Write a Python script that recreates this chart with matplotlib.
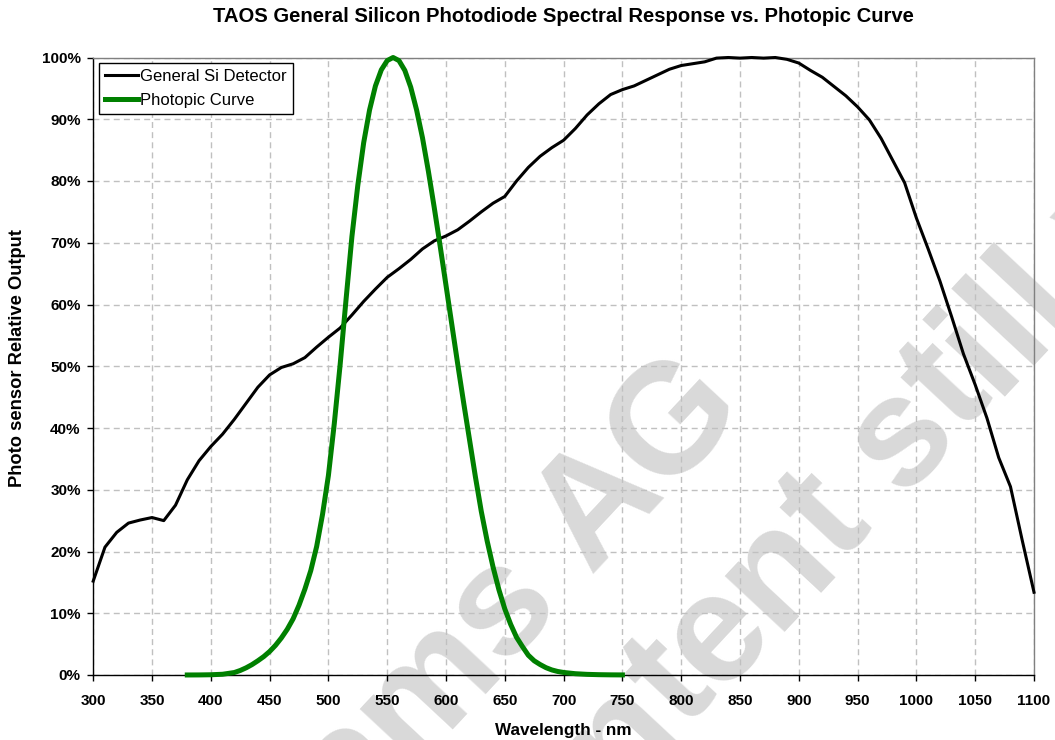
import math
import matplotlib
matplotlib.use('Agg')
import matplotlib.pyplot as plt
from matplotlib.ticker import FuncFormatter

plt.rcParams['font.family'] = ['Liberation Sans', 'DejaVu Sans']

# ---------------- data ----------------
title = "TAOS General Silicon Photodiode Spectral Response vs. Photopic Curve"
x_label = "Wavelength - nm"
y_label = "Photo sensor Relative Output"
series_names = ["General Si Detector", "Photopic Curve"]

si_wavelength = list(range(300, 1101, 10))
si_response = [
    15.2, 20.7, 23.1, 24.6, 25.1, 25.5, 25.0, 27.5, 31.6, 34.7,   # 300-390
    37.0, 39.0, 41.4, 44.0, 46.6, 48.6, 49.8, 50.4, 51.4, 53.1,   # 400-490
    54.7, 56.2, 58.3, 60.5, 62.5, 64.4, 65.8, 67.3, 69.0, 70.3,   # 500-590
    71.1, 72.1, 73.5, 75.0, 76.4, 77.5, 80.0, 82.2, 84.0, 85.4,   # 600-690
    86.6, 88.5, 90.7, 92.5, 94.0, 94.8, 95.4, 96.3, 97.2, 98.1,   # 700-790
    98.7, 99.0, 99.3, 99.9, 100.0, 99.9, 100.0, 99.9, 100.0, 99.7,  # 800-890
    99.1, 97.9, 96.8, 95.3, 93.8, 92.0, 89.9, 86.9, 83.3, 79.7,   # 900-990
    74.0, 69.0, 63.8, 58.0, 52.0, 47.0, 41.6, 35.2, 30.5, 21.8,   # 1000-1090
    13.4,                                                         # 1100
]

photopic_wavelength = [380, 390, 400, 410, 420, 425, 430, 435, 440, 445,
                       450, 455, 460, 465, 470, 475, 480, 485, 490, 495,
                       500, 505, 510, 515, 520, 525, 530, 535, 540, 545,
                       550, 555, 560, 565, 570, 575, 580, 585, 590, 595,
                       600, 605, 610, 615, 620, 625, 630, 635, 640, 645,
                       650, 655, 660, 665, 670, 675, 680, 685, 690, 695,
                       700, 710, 720, 730, 740, 750]
photopic_response = [0.004, 0.012, 0.04, 0.12, 0.40, 0.73, 1.16, 1.68, 2.3, 2.98,
                     3.8, 4.8, 6.0, 7.4, 9.1, 11.3, 13.9, 16.9, 20.8, 26.0,
                     32.3, 40.7, 50.3, 60.8, 71.0, 79.3, 86.2, 91.5, 95.4, 98.0,
                     99.5, 100.0, 99.5, 97.9, 95.2, 91.5, 87.0, 81.6, 75.7, 69.5,
                     63.1, 56.7, 50.3, 44.1, 38.1, 32.1, 26.5, 21.7, 17.5, 13.8,
                     10.7, 8.2, 6.1, 4.6, 3.2, 2.3, 1.7, 1.19, 0.82, 0.57,
                     0.41, 0.21, 0.105, 0.052, 0.025, 0.012]

x_ticks = list(range(300, 1101, 50))
y_ticks = list(range(0, 101, 10))

watermark_lines = ["ams AG", "content still valid"]

# ---------------- figure ----------------
W, H = 1055, 740
fig = plt.figure(figsize=(W / 100, H / 100), dpi=100)
fig.patch.set_facecolor('white')

ax_left, ax_right, ax_top, ax_bottom = 93.2, 1034.0, 57.5, 675.0
ax = fig.add_axes([ax_left / W, 1 - ax_bottom / H,
                   (ax_right - ax_left) / W, (ax_bottom - ax_top) / H])
ax.set_facecolor('none')

# watermark (light grey, rotated, behind everything)
ADV = {'a': .556, 'm': .889, 's': .556, ' ': .278, 'A': .722, 'G': .778,
       'c': .556, 'o': .611, 'n': .611, 't': .333, 'e': .556, 'i': .278,
       'l': .278, 'v': .556, 'd': .611}


def watermark(text, start_px, angle_deg, em_px, fontsize):
    ca, sa = math.cos(math.radians(angle_deg)), math.sin(math.radians(angle_deg))
    x, y = start_px
    for ch in text:
        w = ADV.get(ch, 0.556) * em_px
        cx = x + ca * w / 2
        cy = y - sa * w / 2
        if ch != ' ':
            fig.text(cx / W, 1 - cy / H, ch, rotation=angle_deg,
                     rotation_mode='anchor', ha='center', va='baseline',
                     fontsize=fontsize, fontweight='bold', color='#d9d9d9',
                     zorder=-5)
        x += ca * w
        y -= sa * w


watermark(watermark_lines[0], (353, 826), 47, 152, 112)
watermark(watermark_lines[1], (499, 928), 47, 152, 112)

# grid
ax.set_axisbelow(True)
ax.grid(True, color='#c0c0c0', linewidth=1.0, linestyle=(0, (4.3, 3.0)))

# curves
ax.plot(si_wavelength, si_response, color='black', linewidth=2.2,
        label=series_names[0], clip_on=False, zorder=3, solid_joinstyle='round')
ax.plot(photopic_wavelength, photopic_response, color='#008000', linewidth=3.6,
        label=series_names[1], clip_on=False, zorder=4, solid_joinstyle='round')

ax.set_xlim(300, 1100)
ax.set_ylim(0, 100)
ax.set_xticks(x_ticks)
ax.set_yticks(y_ticks)
ax.yaxis.set_major_formatter(FuncFormatter(lambda v, p: f"{int(round(v))}%"))

for lbl in ax.get_xticklabels() + ax.get_yticklabels():
    lbl.set_fontweight('bold')
ax.tick_params(axis='both', which='major', direction='out', length=4,
               width=1, color='black', labelsize=11, labelcolor='black')
ax.tick_params(axis='x', pad=9.5)
ax.tick_params(axis='y', pad=5)

ax.spines['left'].set_color('black')
ax.spines['bottom'].set_color('black')
ax.spines['top'].set_color('#808080')
ax.spines['right'].set_color('#808080')
for s in ax.spines.values():
    s.set_linewidth(1.0)

# legend
leg = ax.legend(loc='upper left', bbox_to_anchor=(0.0062, 0.991),
                borderaxespad=0, fancybox=False, framealpha=1,
                edgecolor='black', fontsize=12, handlelength=2.0,
                handletextpad=0.12, borderpad=0.35, labelspacing=0.55)
leg.get_frame().set_linewidth(1.0)

# texts
fig.text(563 / W, 1 - 17 / H, title, ha='center', va='center',
         fontsize=14.6, fontweight='bold')
fig.text(563 / W, 1 - 730 / H, x_label, ha='center', va='center',
         fontsize=12.3, fontweight='bold')
fig.text(18 / W, 1 - 358 / H, y_label, ha='center', va='center',
         rotation=90, fontsize=13.2, fontweight='bold')

fig.savefig('out.png', dpi=100, facecolor='white')
